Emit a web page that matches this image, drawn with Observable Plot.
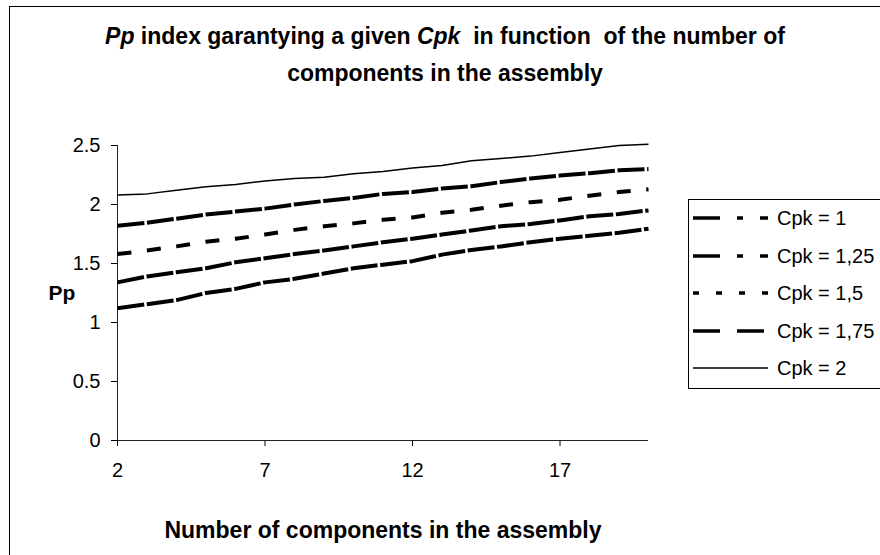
<!DOCTYPE html>
<html><head><meta charset="utf-8">
<script src="https://cdn.jsdelivr.net/npm/d3@7"></script>
<script src="https://cdn.jsdelivr.net/npm/@observablehq/plot@0.6"></script>
<style>
html,body{margin:0;padding:0;background:#fff;}
#wrap{position:relative;width:880px;height:555px;overflow:hidden;background:#fff;font-family:"Liberation Sans",Arial,sans-serif;color:#000;}
#frame{position:absolute;left:9px;top:6px;width:1000px;height:1000px;border:1px solid #000;box-sizing:border-box;}
#title{position:absolute;left:0;top:18px;width:890px;text-align:center;font-weight:bold;font-size:23px;line-height:37px;}
#chart{position:absolute;left:0;top:120px;}
#legend{position:absolute;left:688px;top:199px;}
</style></head><body>
<div id="wrap">
<div id="frame"></div>
<div id="title"><i>Pp</i> index garantying a given <i>Cpk</i>&nbsp; in function&nbsp; of the number of<br>components in the assembly</div>
<div id="chart"></div>
<svg id="legend" width="200" height="192"></svg>
</div>
<script>
// ---- data ----
const components = [2, 3, 4, 5, 6, 7, 8, 9, 10, 11, 12, 13, 14, 15, 16, 17, 18, 19, 20];
const cpk1   = [1.12, 1.155, 1.19, 1.25, 1.285, 1.34, 1.37, 1.415, 1.46, 1.49, 1.52, 1.575, 1.615, 1.645, 1.68, 1.71, 1.735, 1.76, 1.795];
const cpk125 = [1.34, 1.39, 1.425, 1.46, 1.51, 1.545, 1.58, 1.61, 1.645, 1.68, 1.71, 1.745, 1.78, 1.815, 1.835, 1.865, 1.9, 1.92, 1.95];
const cpk15  = [1.58, 1.61, 1.645, 1.685, 1.71, 1.745, 1.785, 1.815, 1.84, 1.87, 1.89, 1.93, 1.955, 1.99, 2.02, 2.04, 2.075, 2.105, 2.13];
const cpk175 = [1.82, 1.845, 1.88, 1.915, 1.94, 1.965, 2.0, 2.03, 2.055, 2.09, 2.105, 2.135, 2.155, 2.19, 2.22, 2.245, 2.265, 2.29, 2.30];
const cpk2   = [2.08, 2.09, 2.12, 2.15, 2.17, 2.20, 2.22, 2.23, 2.26, 2.28, 2.31, 2.33, 2.37, 2.39, 2.41, 2.44, 2.47, 2.50, 2.51];
const seriesLabels = ["Cpk = 1", "Cpk = 1,25", "Cpk = 1,5", "Cpk = 1,75", "Cpk = 2"];
const xTicks = [2, 7, 12, 17];
const yTicks = [0, 0.5, 1, 1.5, 2, 2.5];
const yLabel = "Pp";
const xLabel = "Number of components in the assembly";

// ---- styles (kept apart from data) ----
const seriesValues = [cpk1, cpk125, cpk15, cpk175, cpk2];
const styles = [
  {w: 4,   dash: "27,2.6",  legendDash: "27,17,6,17,8", lw: 3.5},
  {w: 4,   dash: "27,2.6",  legendDash: "27,17,6,17,8", lw: 3.5},
  {w: 4,   dash: "14,15.6", legendDash: "6,17",         lw: 3.5},
  {w: 4,   dash: "27,2.6",  legendDash: "27,17",        lw: 3.5},
  {w: 1.5, dash: null,      legendDash: null,           lw: 1.5}
];

const rows = seriesValues.map(vals => components.map((c, i) => ({n: c, pp: vals[i]})));

const lineMarks = rows.map((r, k) => Plot.line(r, {
  x: "n", y: "pp", stroke: "#000", strokeWidth: styles[k].w,
  strokeDasharray: styles[k].dash || undefined, strokeLinecap: "butt"
}));

const plot = Plot.plot({
  width: 880, height: 435,
  marginLeft: 117, marginRight: 232, marginTop: 25, marginBottom: 115,
  style: {fontFamily: "'Liberation Sans', Arial, sans-serif", fontSize: "20px", color: "#000", background: "transparent", overflow: "visible"},
  x: {domain: [2, 20], ticks: xTicks, tickSize: 6, tickPadding: 16, label: null, tickFormat: d => String(d)},
  y: {domain: [0, 2.5], ticks: yTicks, tickSize: 6, tickPadding: 11, label: null, tickFormat: d => String(d)},
  marks: [
    Plot.ruleY([0], {stroke: "#222"}),
    Plot.ruleX([2], {stroke: "#222"}),
    ...lineMarks,
    Plot.text([yLabel], {text: d => d, frameAnchor: "left", dx: -69, fontWeight: "bold", fontSize: 21}),
    Plot.text([xLabel], {text: d => d, frameAnchor: "bottom", dy: 97, lineAnchor: "bottom", fontWeight: "bold", fontSize: 23})
  ]
});
document.getElementById("chart").appendChild(plot);

// ---- legend ----
const lg = d3.select("#legend");
lg.append("rect").attr("x", 0.5).attr("y", 0.5).attr("width", 260).attr("height", 189)
  .attr("fill", "#fff").attr("stroke", "#000");
const rowY = [19, 57, 94, 132, 169];
seriesLabels.forEach((lab, k) => {
  const g = lg.append("g").attr("transform", `translate(0,${rowY[k]})`);
  g.append("line").attr("x1", 5).attr("x2", 80).attr("y1", 0).attr("y2", 0)
    .attr("stroke", "#000").attr("stroke-width", styles[k].lw)
    .attr("stroke-dasharray", styles[k].legendDash);
  g.append("text").attr("x", 89).attr("y", 0).attr("dy", "0.35em")
    .attr("font-family", "'Liberation Sans', Arial, sans-serif").attr("font-size", 20)
    .text(lab);
});
</script>
</body></html>
